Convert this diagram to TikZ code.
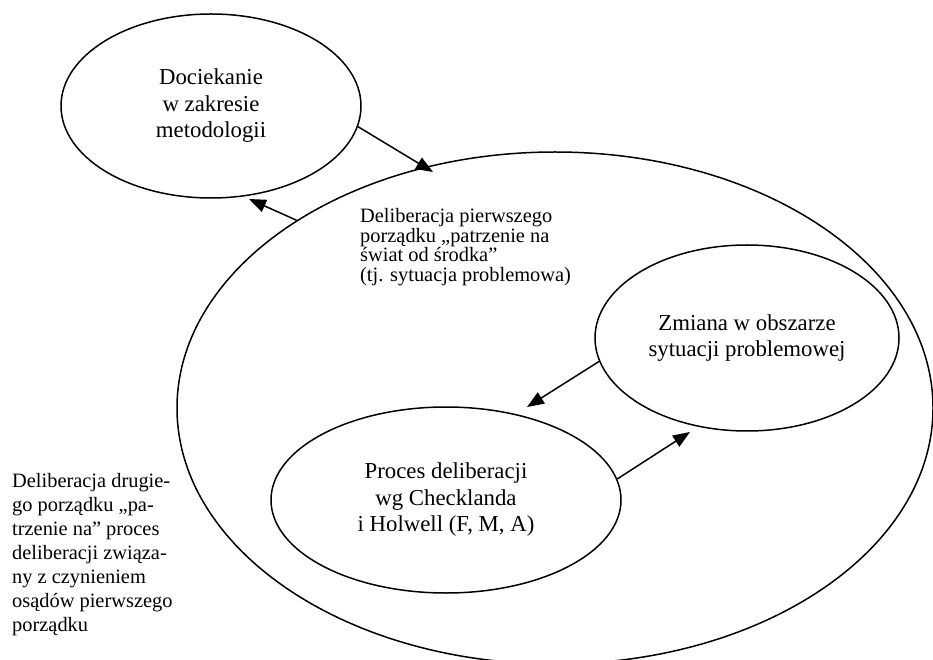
\documentclass[tikz,border=0pt]{standalone}
\usepackage{fontspec}
\setmainfont{Liberation Serif}
\usetikzlibrary{shapes.geometric,arrows.meta}
\tikzset{
  oval/.style={draw, ellipse, line width=1.5pt, inner sep=0pt, align=center,
    font=\fontsize{22.8}{26.5}\selectfont},
  freetext/.style={inner sep=0pt, align=left, anchor=west},
  arr/.style={line width=1.5pt, -{Triangle[length=17pt,width=13pt]}}
}
\begin{document}
\begin{tikzpicture}[x=1pt,y=1pt]
\useasboundingbox (0,0) rectangle (933,659);
\node[oval, minimum width=756pt, minimum height=512pt] (big) at (555,251) {};
\node[oval, minimum width=300pt, minimum height=184pt] (doc) at (211,553)
  {Dociekanie\\w zakresie\\metodologii};
\node[oval, minimum width=304pt, minimum height=186pt] (zm) at (747,321)
  {Zmiana w obszarze\\sytuacji problemowej};
\node[oval, minimum width=350pt, minimum height=186pt] (pr) at (446,159)
  {Proces deliberacji\\wg Checklanda\\i Holwell (F, M, A)};
\node[freetext, font=\fontsize{20.4}{19.5}\selectfont] (first) at (360,412)
  {Deliberacja pierwszego\\porządku „patrzenie na\\świat od środka”\\(tj. sytuacja problemowa)};
\node[freetext, font=\fontsize{20.4}{24}\selectfont] (second) at (12,104)
  {Deliberacja drugie-\\go porządku „pa-\\trzenie na” proces\\deliberacji związa-\\ny z czynieniem\\osądów pierwszego\\porządku};
\coordinate (t1) at (433,487);
\coordinate (t2) at (249,460);
\coordinate (t3) at (527,252);
\coordinate (t4) at (690,227);
\draw[arr] (doc.-8) -- (t1);
\draw[arr] (big.144.4) -- (t2);
\draw[arr] (zm.-171.7) -- (t3);
\draw[arr] (pr.7.6) -- (t4);
\end{tikzpicture}
\end{document}
